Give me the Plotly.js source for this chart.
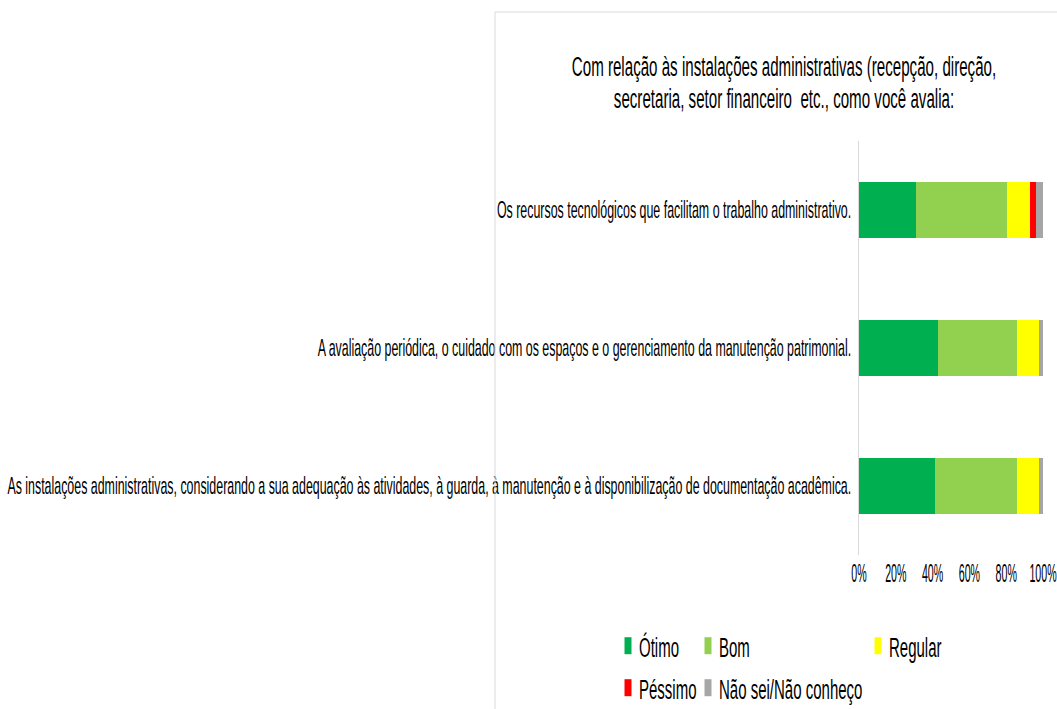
<!DOCTYPE html>
<html>
<head>
<meta charset="utf-8">
<script src="https://cdn.plot.ly/plotly-3.0.1.min.js"></script>
<style>html,body{margin:0;padding:0;background:#fff;}#chart{width:1057px;height:709px;}</style>
</head>
<body>
<div id="chart"></div>
<script>
// Categories, bottom to top
const categories = [
  "As instalações administrativas, considerando a sua adequação às atividades, à guarda, à manutenção e à disponibilização de documentação acadêmica.",
  "A avaliação periódica, o cuidado com os espaços e o gerenciamento da manutenção patrimonial.",
  "Os recursos tecnológicos que facilitam o trabalho administrativo."
];
const seriesNames = ["Ótimo", "Bom", "Regular", "Péssimo", "Não sei/Não conheço"];
const otimo   = [0.413, 0.429, 0.310];
const bom     = [0.446, 0.430, 0.494];
const regular = [0.120, 0.120, 0.125];
const pessimo = [0.000, 0.000, 0.033];
const naoSei  = [0.021, 0.021, 0.038];
const seriesValues = [otimo, bom, regular, pessimo, naoSei];
const colors = ["#00b050", "#92d050", "#ffff00", "#ff0000", "#a6a6a6"];
const xTickVals = [0, 0.2, 0.4, 0.6, 0.8, 1.0];
const xTickText = ["0%", "20%", "40%", "60%", "80%", "100%"];
const titleText = "Com relação às instalações administrativas (recepção, direção,<br>secretaria, setor financeiro  etc., como você avalia:";

const FONT = '"Liberation Sans", Arial, sans-serif';
// horizontal condensing of text (narrow, tall font look of the reference)
const SQ_TITLE = 0.54, SQ_LABEL = 0.517, SQ_TICK = 0.41, SQ_LEGEND = 0.536;

// Plot area in pixels
const W = 1057, H = 709;
const mL = 859, mR = 14, mT = 141, mB = 154;
const pw = W - mL - mR, ph = H - mT - mB;
const px = (x) => (x - mL) / pw;          // pixel -> paper x
const py = (y) => 1 - (y - mT) / ph;      // pixel -> paper y

const legendNames = ["legend", "legend2", "legend3", "legend4", "legend5"];
const legendPos = [[608, 621], [688, 621], [858, 621], [608, 663], [688, 663]];

const traces = seriesNames.map((name, i) => ({
  type: "bar",
  orientation: "h",
  name: name,
  y: categories,
  x: seriesValues[i],
  marker: { color: colors[i] },
  legend: legendNames[i],
  showlegend: true,
  hoverinfo: "name+x"
}));

const layout = {
  width: W, height: H,
  showlegend: true,
  margin: { l: mL, r: mR, t: mT, b: mB, pad: 0, autoexpand: false },
  paper_bgcolor: "#ffffff",
  plot_bgcolor: "#ffffff",
  barmode: "stack",
  bargap: 0.6,
  font: { family: FONT, color: "#000000", size: 14 },
  title: {
    text: titleText,
    font: { family: FONT, size: 28, color: "#000000" },
    xref: "container", x: 784 / W, xanchor: "center",
    yref: "container", y: 1 - 76 / H, yanchor: "middle"
  },
  xaxis: {
    range: [0, 1],
    tickvals: xTickVals,
    ticktext: xTickText,
    tickangle: 0,
    ticklabeloverflow: "allow",
    automargin: false,
    showgrid: false,
    zeroline: false,
    showline: false,
    ticks: "",
    tickfont: { family: FONT, size: 26, color: "#000" },
    fixedrange: true
  },
  yaxis: {
    type: "category",
    categoryorder: "array",
    categoryarray: categories,
    automargin: false,
    showgrid: false,
    zeroline: false,
    showline: true,
    linecolor: "#d9d9d9",
    linewidth: 1,
    ticks: "",
    ticklabelstandoff: 2,
    tickfont: { family: FONT, size: 24, color: "#000" },
    fixedrange: true
  },
  shapes: [
    { type: "line", xref: "paper", yref: "paper", x0: px(495), x1: px(495), y0: py(12), y1: py(709), line: { color: "#d9d9d9", width: 1 } },
    { type: "line", xref: "paper", yref: "paper", x0: px(495), x1: px(1057), y0: py(12), y1: py(12), line: { color: "#d9d9d9", width: 1 } }
  ]
};
legendNames.forEach((ln, i) => {
  layout[ln] = {
    x: px(legendPos[i][0]), y: py(legendPos[i][1]),
    xanchor: "left", yanchor: "top",
    orientation: "h",
    bgcolor: "rgba(0,0,0,0)",
    font: { family: FONT, size: 28, color: "#000" },
    itemwidth: 30,
    tracegroupgap: 0
  };
});

function squeeze(t, s) {
  const x = parseFloat(t.getAttribute("x")) || 0;
  const tr = t.getAttribute("transform") || "";
  t.setAttribute("transform", tr + ` translate(${x},0) scale(${s},1) translate(${-x},0)`);
}

Plotly.newPlot("chart", traces, layout, { displayModeBar: false, staticPlot: true }).then(() => {
  const root = document.querySelector("#chart");
  root.querySelectorAll(".g-gtitle text").forEach(t => {
    // tighter line spacing, as in the reference
    t.querySelectorAll("tspan.line").forEach((s, i) => { if (i > 0) s.setAttribute("dy", "1.14em"); });
    squeeze(t, SQ_TITLE);
  });
  root.querySelectorAll(".ytick text").forEach(t => squeeze(t, SQ_LABEL));
  root.querySelectorAll(".xtick text").forEach(t => squeeze(t, SQ_TICK));
  root.querySelectorAll(".traces text").forEach(t => {
    const x = (parseFloat(t.getAttribute("x")) || 0) - 9; // pull text closer to swatch
    t.setAttribute("x", x);
    t.querySelectorAll("tspan[x]").forEach(s => s.setAttribute("x", x));
    squeeze(t, SQ_LEGEND);
  });
  root.querySelectorAll(".legendpoints path").forEach(p => {
    p.setAttribute("d", "M3.5,8.5H-3.5V-8.5H3.5Z");
  });
});
</script>
</body>
</html>
